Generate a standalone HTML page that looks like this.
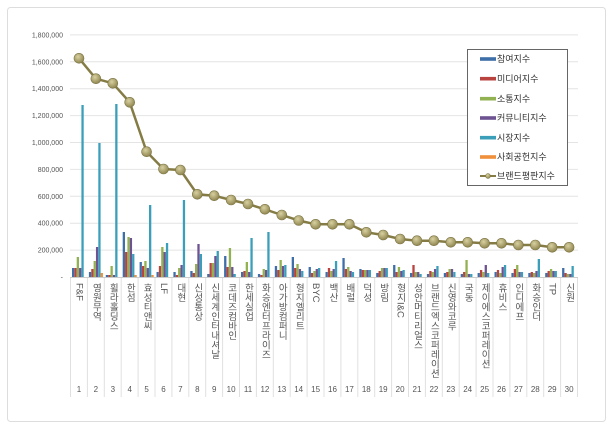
<!DOCTYPE html>
<html><head><meta charset="utf-8"><style>
html,body{margin:0;padding:0;background:#fff;}
body{width:615px;height:429px;overflow:hidden;position:relative;font-family:"Liberation Sans","Noto Sans CJK KR",sans-serif;}
svg{position:absolute;left:0;top:0;}
.yl{font-size:7px;fill:#555;text-anchor:end;}
.lg{font-size:9px;fill:#333;}
.lab{position:absolute;top:283px;writing-mode:vertical-rl;font-size:9.5px;color:#555;line-height:11px;font-family:"Liberation Sans","Noto Sans CJK KR",sans-serif;}
.num{font-size:8px;fill:#555;text-anchor:middle;}
</style></head><body>
<svg id="s" width="615" height="429" xmlns="http://www.w3.org/2000/svg"></svg>
<div id="labs"></div>
<script>
var s=document.getElementById('s');var h='';
h+='<defs><radialGradient id="mk" cx="40%" cy="35%" r="65%"><stop offset="0" stop-color="#d8d0a0"/><stop offset="1" stop-color="#8f8650"/></radialGradient></defs>';
h+='<rect x="7.5" y="7.5" width="598" height="414" rx="3" fill="#fff" stroke="#ddd"/>';
var x0=70.5,cw=16.9,y0=277,u=26.9;
for(var k=0;k<=9;k++){var y=y0-k*u;
 if(k>0)h+='<line x1="70" x2="578" y1="'+y+'" y2="'+y+'" stroke="#e4e4e4" stroke-width="1"/>';
 h+='<text class="yl" x="63" y="'+(y+2.5)+'">'+(k==0?'-':(k*200000).toLocaleString('en-US'))+'</text>';}
for(var i=0;i<=30;i++){var x=x0+i*cw;h+='<line x1="'+x+'" x2="'+x+'" y1="277" y2="397" stroke="#e0e0e0"/>';}
h+='<line x1="70" x2="578" y1="277.5" y2="277.5" stroke="#ccc"/>';
var B=[[9,9,20,9,172,0],[5,8,16,30,134,4],[2,2,11,2,173,0],[45,25,40,39,23,2],[15,11,16,9,72,2],[5,11,30,25,34,0],[5,2,9,12,77,0],[6,4,13,33,23,0],[3,14,14,21,26,0],[21,10,29,10,3,0],[5,6,15,5,39,0],[3,2,8,7,45,0],[11,7,17,11,12,0],[20,9,13,8,6,0],
[10,4,6,8,9,0],[5,9,6,8,16,0],[19,8,10,6,5,0],[8,7,7,7,7,0],[4,6,9,9,9,0],[12,5,10,6,7,0],[4,12,5,5,3,0],[3,6,5,8,11,0],[4,5,8,8,5,0],[3,5,17,3,3,0],[4,7,5,12,4,0],[5,7,4,10,12,0],[4,8,12,5,5,0],[4,5,4,6,18,0],[4,6,8,6,6,0],[9,4,3,3,11,0]];
var C=['#3f6fa8','#b8433f','#92b150','#6e5393','#3b9fba','#f0903c'];
for(var i=0;i<30;i++){for(var j=0;j<6;j++){var v=B[i][j];if(!v)continue;var x=x0+i*cw+1.5+j*2.35;
 h+='<rect x="'+x.toFixed(2)+'" y="'+(y0-v)+'" width="2.3" height="'+v+'" fill="'+C[j]+'"/>';}}
var L=[58.3,78.7,83.3,102.3,151.7,169,170,194.3,195.7,200,204,209.3,215,220.5,224.3,224.3,224.3,232.3,235,239,240.7,240.7,242.3,242.3,243.3,243.3,245,245,247.3,247.3];
var p='';for(var i=0;i<30;i++)p+=(i?'L':'M')+(79+i*cw).toFixed(1)+' '+L[i];
h+='<path d="'+p+'" fill="none" stroke="#857c45" stroke-width="2.5"/>';
for(var i=0;i<30;i++)h+='<circle cx="'+(79+i*cw).toFixed(1)+'" cy="'+L[i]+'" r="5" fill="url(#mk)" stroke="#7d7444" stroke-width="0.6"/>';
for(var i=0;i<30;i++)h+='<text class="num" x="'+(79+i*cw).toFixed(1)+'" y="392">'+(i+1)+'</text>';
h+='<rect x="467.5" y="49.5" width="100" height="136" fill="#fff" stroke="#666"/>';
var N=['참여지수','미디어지수','소통지수','커뮤니티지수','시장지수','사회공헌지수','브랜드평판지수'];
var LY=[59,78.7,98.7,118,137.7,157,176];
for(var j=0;j<7;j++){var y=LY[j];
 if(j<6)h+='<rect x="480" y="'+(y-1.8)+'" width="16" height="3.6" fill="'+C[j]+'"/>';
 else{h+='<line x1="480" x2="496" y1="'+y+'" y2="'+y+'" stroke="#857c45" stroke-width="2"/><circle cx="488" cy="'+y+'" r="2.5" fill="url(#mk)" stroke="#7d7444" stroke-width="0.5"/>';}
 h+='<text class="lg" x="497" y="'+(y+3.2)+'">'+N[j]+'</text>';}
s.innerHTML=h;
var T=['F&F','영원무역','휠라홀딩스','한섬','효성티앤씨','LF','대현','신성통상','신세계인터내셔날','코데즈컴바인','한세실업','화승엔터프라이즈','아가방컴퍼니','형지엘리트','BYC','백산','배럴','덕성','방림','형지I&C','성안머티리얼스','브랜드엑스코퍼레이션','신영와코루','국동','제이에스코퍼레이션','휴비스','인디에프','화승인더','TP','신원'];
var d='';for(var i=0;i<30;i++)d+='<div class="lab" style="left:'+(79+i*cw-5.5).toFixed(1)+'px">'+T[i].replace(/&/g,'&amp;')+'</div>';
document.getElementById('labs').innerHTML=d;
</script>
</body></html>
